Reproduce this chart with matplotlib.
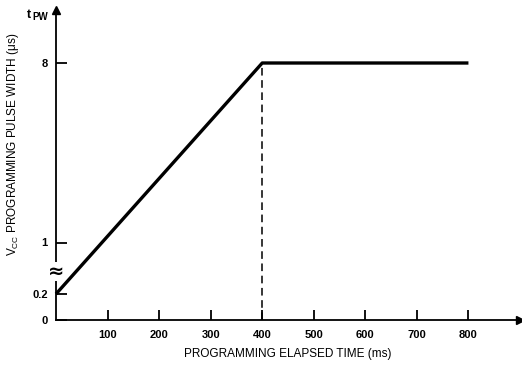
import numpy as np
import matplotlib
matplotlib.use("Agg")
import matplotlib.pyplot as plt

plt.rcParams["font.family"] = ["Liberation Sans", "DejaVu Sans"]
plt.rcParams["mathtext.fontset"] = "custom"
plt.rcParams["mathtext.rm"] = "Liberation Sans"
plt.rcParams["mathtext.it"] = "Liberation Sans"

# data
time_ms = [0, 400, 800]
pulse_us = [0.2, 8, 8]
x_ticks = [100, 200, 300, 400, 500, 600, 700, 800]
y_ticks = [0, 0.2, 1, 8]
y_tick_labels = ["0", "0.2", "1", "8"]
dash_x = 400

# schematic (broken) y axis: value -> drawn position
_vals = np.array([0, 0.2, 1, 8, 12])
_pos = np.array([0, 26, 77.5, 257, 359.4])


def fwd(v):
    return np.interp(v, _vals, _pos)


def inv(p):
    return np.interp(p, _pos, _vals)


fig = plt.figure(figsize=(5.22, 3.68), dpi=100)
ax = fig.add_axes((56 / 522, 1 - 320 / 368, 464 / 522, 310 / 368))
ax.set_yscale("function", functions=(fwd, inv))
ax.set_xlim(0, 900)
ax.set_ylim(0, inv(310))

ax.plot(time_ms, pulse_us, color="black", lw=2.4, solid_capstyle="butt", clip_on=False)
ax.plot([dash_x, dash_x], [0, pulse_us[-1]], color="black", lw=1.1, ls=(0, (5, 3)))

for s in ("top", "right"):
    ax.spines[s].set_visible(False)
for s in ("left", "bottom"):
    ax.spines[s].set_linewidth(1.3)
ax.plot(1, 0, ">", color="black", ms=6, transform=ax.transAxes, clip_on=False)
ax.plot(0, 1, "^", color="black", ms=6, transform=ax.transAxes, clip_on=False)

ax.set_xticks(x_ticks)
ax.set_xticklabels([str(v) for v in x_ticks])
ax.set_yticks(y_ticks)
ax.set_yticklabels(y_tick_labels)
ax.yaxis.set_minor_locator(matplotlib.ticker.NullLocator())
ax.tick_params(direction="in", length=8, width=1.3, labelsize=8, pad=6)
ax.tick_params(axis="x", length=7, pad=7)
for lab in ax.get_xticklabels() + ax.get_yticklabels():
    lab.set_fontweight("bold")

# axis break mark
ax.text(0, inv(49), "≈", transform=ax.get_yaxis_transform(), ha="center", va="center",
        fontsize=14, fontweight="bold", family="DejaVu Sans",
        bbox=dict(facecolor="white", edgecolor="none", pad=0))

ax.set_xlabel("PROGRAMMING ELAPSED TIME (ms)", fontsize=8.5, labelpad=6)
fig.text(13 / 522, 1 - 144 / 368, r"V$_{\rm CC}$ PROGRAMMING PULSE WIDTH ($\mu$s)",
         fontsize=8.5, rotation=90, ha="center", va="center")
fig.text(27 / 522, 1 - 15 / 368, "t", fontsize=9, fontweight="bold", ha="left", va="center")
fig.text(32 / 522, 1 - 17 / 368, "PW", fontsize=7, fontweight="bold", ha="left", va="center")

fig.savefig("out.png", dpi=100)
